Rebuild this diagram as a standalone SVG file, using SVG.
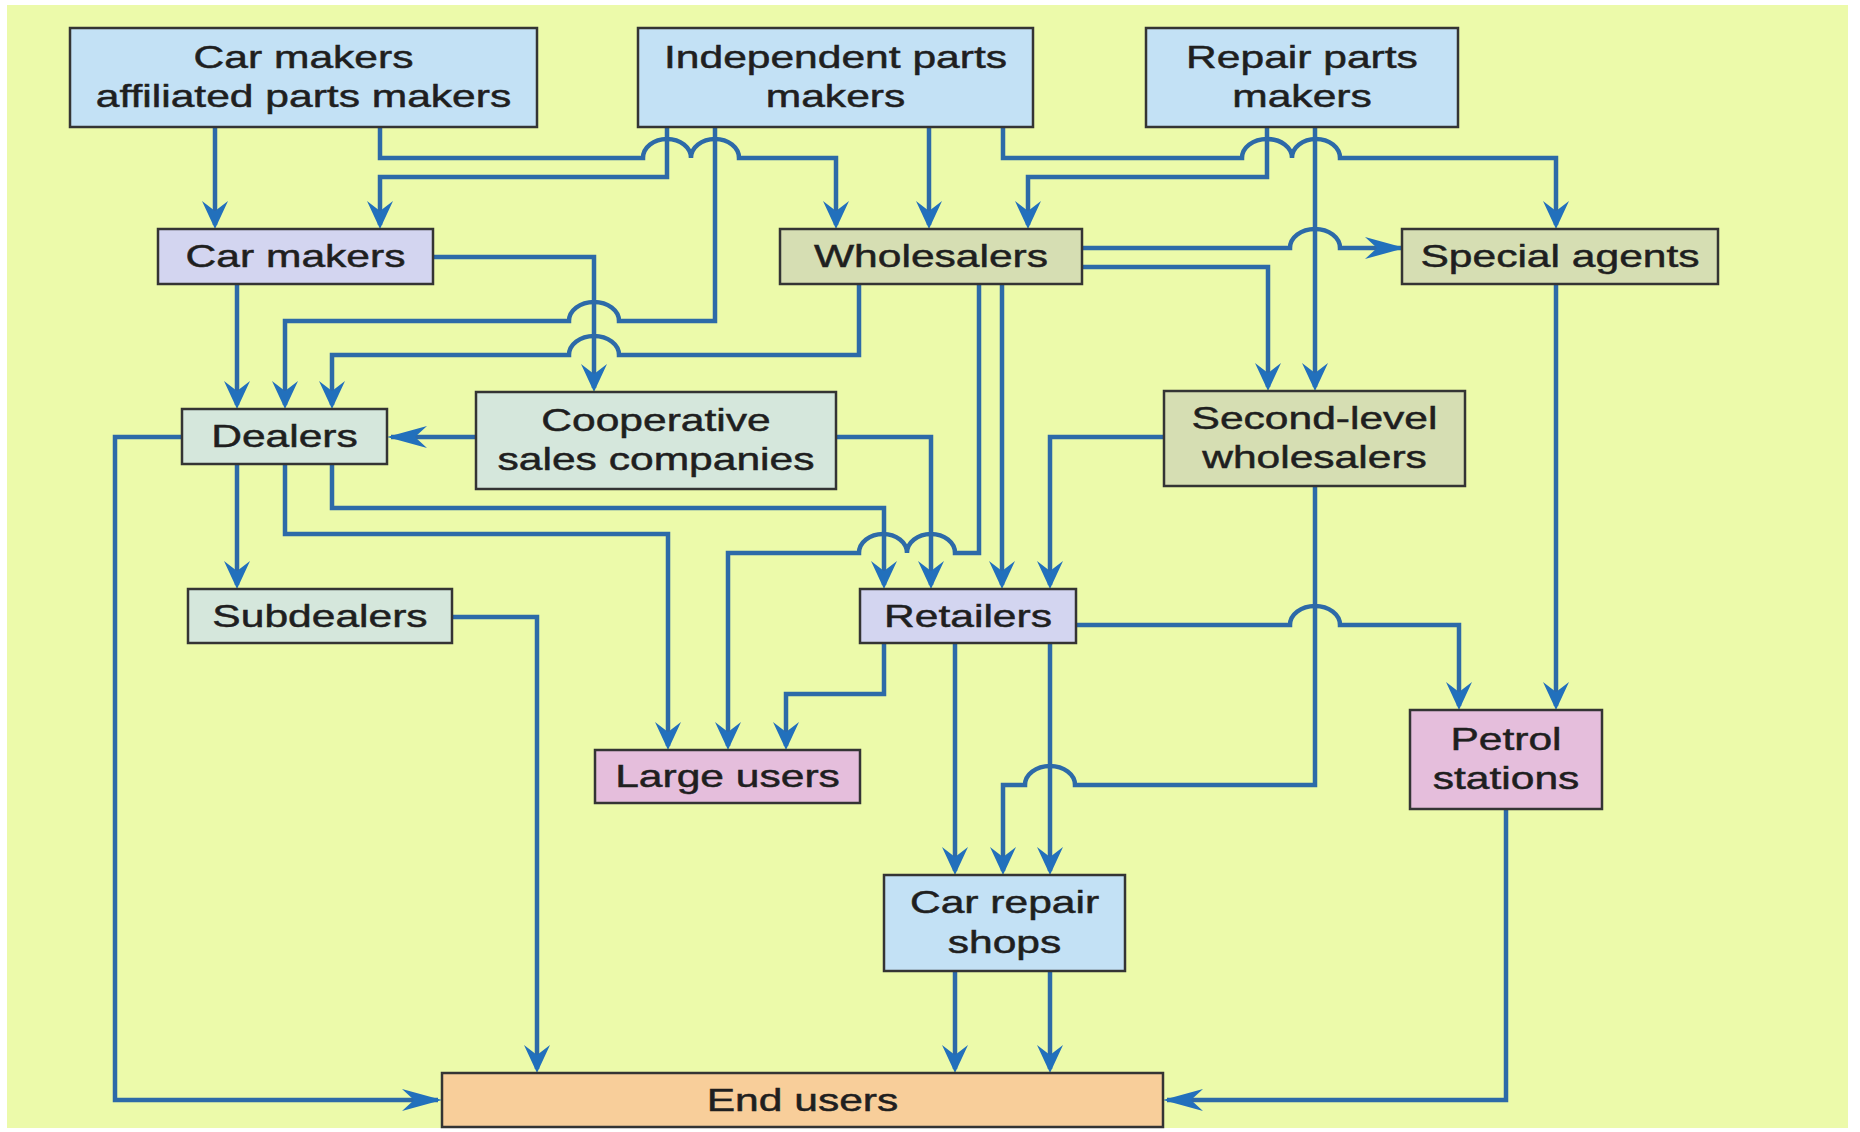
<svg xmlns="http://www.w3.org/2000/svg" width="1860" height="1132" viewBox="0 0 1860 1132">
  <style>
    .bg { fill: #ECFAAA; }
    .box { stroke: #343434; stroke-width: 2.5; }
    .blue { fill: #C3E1F5; }
    .lav { fill: #D3D5F0; }
    .olive { fill: #D6DEB3; }
    .teal { fill: #D5E7DC; }
    .pink { fill: #E5BEDC; }
    .orange { fill: #F8CE9A; }
    .lbl { font-family: "Liberation Sans", Arial, sans-serif; font-size: 32px; fill: #1f1f1f; stroke: #1f1f1f; stroke-width: 0.5; text-anchor: middle; }
    .wire { fill: none; stroke: #2D6AA8; stroke-width: 4.5; stroke-linejoin: miter; }
    .down { marker-end: url(#av); }
    .side { marker-end: url(#ah); }
  </style>
  <defs>
    <!-- barbed arrowhead for vertical runs -->
    <marker id="av" markerUnits="userSpaceOnUse" orient="auto" refX="0" refY="0" markerWidth="60" markerHeight="60" viewBox="-30 -30 60 60" overflow="visible">
      <path d="M4 0 L-24 -13 L-14 0 L-24 13 Z" fill="#2270BC"/>
    </marker>
    <!-- longer, flatter arrowhead for horizontal runs -->
    <marker id="ah" markerUnits="userSpaceOnUse" orient="auto" refX="0" refY="0" markerWidth="60" markerHeight="60" viewBox="-40 -30 60 60" overflow="visible">
      <path d="M4 0 L-36 -11 L-24 0 L-36 11 Z" fill="#2270BC"/>
    </marker>
  </defs>

  <rect class="bg" x="7" y="5" width="1841" height="1123"/>

  <g id="connectors">
    <path class="wire down" d="M215 127 V225"/>
    <path class="wire down" d="M380 127 V158 H643 a24 19 0 0 1 48 0 a24 19 0 0 1 48 0 H836 V225"/>
    <path class="wire down" d="M667 127 V177 H380 V225"/>
    <path class="wire down" d="M715 127 V321 H619 a25 19 0 0 0 -50 0 H285 V405"/>
    <path class="wire down" d="M929 127 V225"/>
    <path class="wire down" d="M859 284 V355 H619 a25 19 0 0 0 -50 0 H332 V405"/>
    <path class="wire down" d="M237 284 V405"/>
    <path class="wire down" d="M433 257 H594 V388"/>
    <path class="wire down" d="M1003 127 V158 H1242 a25 19 0 0 1 50 0 a24 19 0 0 1 48 0 H1556 V225"/>
    <path class="wire down" d="M1267 127 V177 H1028 V225"/>
    <path class="wire down" d="M1315 127 V387"/>
    <path class="wire side" d="M1082 248 H1290 a25 19 0 0 1 50 0 H1401"/>
    <path class="wire down" d="M1082 267 H1268 V387"/>
    <path class="wire down" d="M979 284 V553 H955 a24 19 0 0 0 -48 0 a24 19 0 0 0 -48 0 H728 V746"/>
    <path class="wire down" d="M1002 284 V585"/>
    <path class="wire down" d="M332 464 V508 H884 V585"/>
    <path class="wire down" d="M285 464 V534 H668 V746"/>
    <path class="wire down" d="M237 464 V585"/>
    <path class="wire side" d="M476 437 H391"/>
    <path class="wire down" d="M836 437 H931 V585"/>
    <path class="wire side" d="M182 437 H115 V1100 H438"/>
    <path class="wire down" d="M452 617 H537 V1069"/>
    <path class="wire down" d="M884 643 V694 H786 V746"/>
    <path class="wire down" d="M955 643 V871"/>
    <path class="wire down" d="M1050 643 V871"/>
    <path class="wire down" d="M1315 486 V785 H1075 a25 19 0 0 0 -50 0 H1003 V871"/>
    <path class="wire down" d="M1076 625 H1290 a25 19 0 0 1 50 0 H1459 V706"/>
    <path class="wire down" d="M1556 284 V706"/>
    <path class="wire side" d="M1506 809 V1100 H1167"/>
    <path class="wire down" d="M955 971 V1069"/>
    <path class="wire down" d="M1050 971 V1069"/>
    <path class="wire down" d="M1166 437 H1050 V585"/>
  </g>

  <g id="affiliated-makers">
    <rect class="box blue" x="70" y="28" width="467" height="99"/>
    <text class="lbl" transform="translate(303.5 77.5) scale(1.33 1)"><tspan x="0" y="-10">Car makers</tspan><tspan x="0" y="30">affiliated parts makers</tspan></text>
  </g>
  <g id="independent-makers">
    <rect class="box blue" x="638" y="28" width="395" height="99"/>
    <text class="lbl" transform="translate(835.5 77.5) scale(1.33 1)"><tspan x="0" y="-10">Independent parts</tspan><tspan x="0" y="30">makers</tspan></text>
  </g>
  <g id="repair-makers">
    <rect class="box blue" x="1146" y="28" width="312" height="99"/>
    <text class="lbl" transform="translate(1302 77.5) scale(1.33 1)"><tspan x="0" y="-10">Repair parts</tspan><tspan x="0" y="30">makers</tspan></text>
  </g>
  <g id="car-makers">
    <rect class="box lav" x="158" y="229" width="275" height="55"/>
    <text class="lbl" transform="translate(295.5 267) scale(1.33 1)">Car makers</text>
  </g>
  <g id="wholesalers">
    <rect class="box olive" x="780" y="229" width="302" height="55"/>
    <text class="lbl" transform="translate(931 267) scale(1.33 1)">Wholesalers</text>
  </g>
  <g id="special-agents">
    <rect class="box olive" x="1402" y="229" width="316" height="55"/>
    <text class="lbl" transform="translate(1560 267) scale(1.33 1)">Special agents</text>
  </g>
  <g id="dealers">
    <rect class="box teal" x="182" y="409" width="205" height="55"/>
    <text class="lbl" transform="translate(284.5 447) scale(1.33 1)">Dealers</text>
  </g>
  <g id="cooperative">
    <rect class="box teal" x="476" y="392" width="360" height="97"/>
    <text class="lbl" transform="translate(656 440.5) scale(1.33 1)"><tspan x="0" y="-10">Cooperative</tspan><tspan x="0" y="30">sales companies</tspan></text>
  </g>
  <g id="second-level">
    <rect class="box olive" x="1164" y="391" width="301" height="95"/>
    <text class="lbl" transform="translate(1314.5 438.5) scale(1.33 1)"><tspan x="0" y="-10">Second-level</tspan><tspan x="0" y="30">wholesalers</tspan></text>
  </g>
  <g id="subdealers">
    <rect class="box teal" x="188" y="589" width="264" height="54"/>
    <text class="lbl" transform="translate(320 626.5) scale(1.33 1)">Subdealers</text>
  </g>
  <g id="retailers">
    <rect class="box lav" x="860" y="589" width="216" height="54"/>
    <text class="lbl" transform="translate(968 626.5) scale(1.33 1)">Retailers</text>
  </g>
  <g id="large-users">
    <rect class="box pink" x="595" y="750" width="265" height="53"/>
    <text class="lbl" transform="translate(727.5 787) scale(1.33 1)">Large users</text>
  </g>
  <g id="petrol-stations">
    <rect class="box pink" x="1410" y="710" width="192" height="99"/>
    <text class="lbl" transform="translate(1506 759.5) scale(1.33 1)"><tspan x="0" y="-10">Petrol</tspan><tspan x="0" y="30">stations</tspan></text>
  </g>
  <g id="repair-shops">
    <rect class="box blue" x="884" y="875" width="241" height="96"/>
    <text class="lbl" transform="translate(1004.5 923) scale(1.33 1)"><tspan x="0" y="-10">Car repair</tspan><tspan x="0" y="30">shops</tspan></text>
  </g>
  <g id="end-users">
    <rect class="box orange" x="442" y="1073" width="721" height="54"/>
    <text class="lbl" transform="translate(802.5 1111) scale(1.33 1)">End users</text>
  </g>
</svg>
